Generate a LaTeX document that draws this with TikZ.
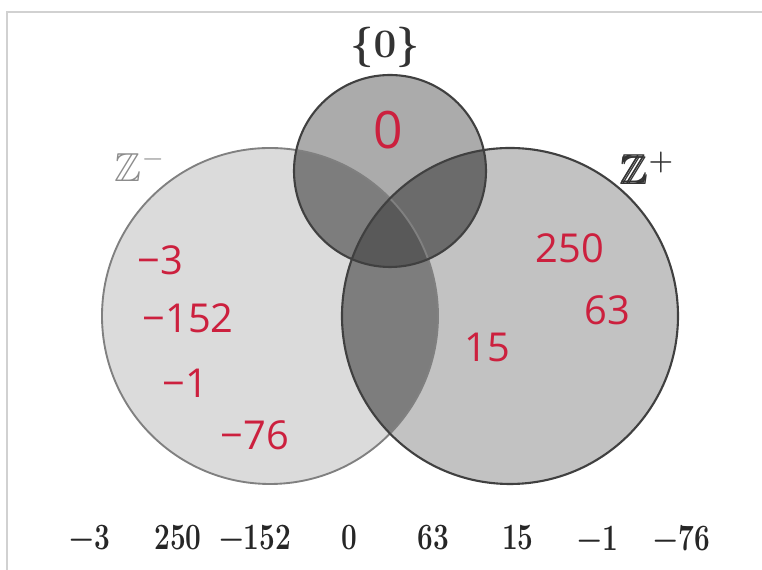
\documentclass[tikz,border=0pt]{standalone}
\usepackage{amsmath,amssymb}
\usepackage{graphicx}
\usepackage{fontspec}
\newfontfamily\handfont{Open Sans}
\usepackage{tikz}
\usetikzlibrary{positioning}
\usepackage{xcolor}
\definecolor{inkred}{RGB}{204,32,62}
\newcommand{\negset}{(270,254) circle[radius=168]}
\newcommand{\posset}{(510,254) circle[radius=168]}
\newcommand{\zeroset}{(390,399) circle[radius=96]}

\begin{document}
\begin{tikzpicture}[x=0.015cm, y=0.015cm,
    hand/.style={text=inkred, font=\handfont\fontsize{17}{19}\selectfont},
    elem/.style={font=\Large\bfseries, text=black!85}]

    \useasboundingbox (0,0) rectangle (762,570);

    % --- FRAME ---
    \draw[black!18, line width=0.6pt] (7,0) -- (7,558) -- (762,558);

    % --- SETS ---
    \fill[black!14] \negset;
    \fill[black!24] \posset;
    \fill[black!33] \zeroset;

    % Overlaps
    \begin{scope}
        \clip \negset;
        \fill[black!51] \posset;
        \fill[black!51] \zeroset;
    \end{scope}
    \begin{scope}
        \clip \posset;
        \fill[black!58] \zeroset;
    \end{scope}
    \begin{scope}
        \clip \negset;
        \clip \posset;
        \fill[black!65] \zeroset;
    \end{scope}

    % Outlines
    \draw[black!50, line width=0.8pt] \negset;
    \draw[black!75, line width=0.9pt] \posset;
    \draw[black!75, line width=0.9pt] \zeroset;

    % --- SET NAMES ---
    \node[font=\LARGE\boldmath, text=black!80] (zeroname) at (385,523) {$\{0\}$};
    \node[font=\LARGE, text=black!45] (negname) at (140,404) {$\mathbb{Z}^-$};
    \node[font=\LARGE\boldmath, text=black!80] (posname) at (648,402) {$\pmb{\mathbb{Z}}^+$};

    % --- HANDWRITTEN ELEMENTS ---
    \node[hand, font=\handfont\fontsize{22}{24}\selectfont] (hzero) at (388,440) {0};
    \node[hand] (hthree) at (160,310) {−3};
    \node[hand] (hfiftytwo) at (188,252) {−152};
    \node[hand] (hone) at (185,187) {−1};
    \node[hand] (hseventysix) at (255,135) {−76};
    \node[hand] (htwofifty) at (570,322) {250};
    \node[hand] (hsixtythree) at (607,260) {63};
    \node[hand] (hfifteen) at (487,223) {15};

    % --- ELEMENTS TO SORT ---
    \foreach \val/\xpos [count=\i] in {−3/90, 250/178, −152/255, 0/349, 63/433, 15/518, −1/598, −76/682}
        \node[elem] (elem\i) at (\xpos,32) {\scalebox{0.83}[1.1]{\val}};

\end{tikzpicture}
\end{document}
